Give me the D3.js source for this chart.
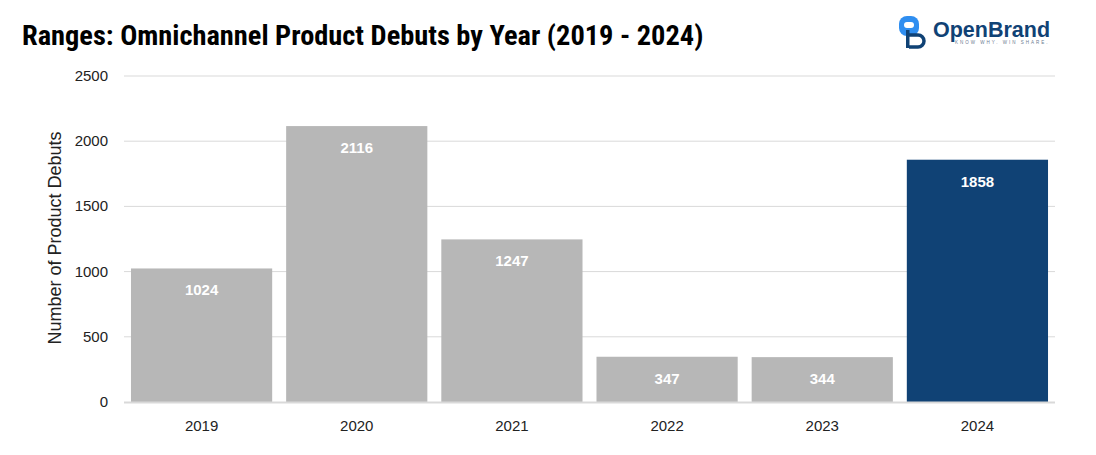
<!DOCTYPE html>
<html><head><meta charset="utf-8">
<script src="https://cdn.jsdelivr.net/npm/d3@7"></script>
<style>body{margin:0;background:#fff}svg{display:block}</style>
</head><body>
<svg id="c" width="1096" height="455"></svg>
<script>
const years = ["2019","2020","2021","2022","2023","2024"];
const debuts = [1024, 2116, 1247, 347, 344, 1858];
const yTicks = [0, 500, 1000, 1500, 2000, 2500];
const highlightYear = "2024";

const svg = d3.select("#c");
const m = {left:124, right:1055, top:76, bottom:402};
const x = d3.scaleBand().domain(years).range([m.left, m.right]).paddingInner(0.09).paddingOuter(0.045);
const y = d3.scaleLinear().domain([0, 2500]).range([m.bottom, m.top]);

svg.append("text").attr("x", 22).attr("y", 45)
  .attr("font-family", "'Liberation Sans Narrow','Roboto Condensed',sans-serif")
  .attr("font-weight", "bold").attr("font-size", 28.4).attr("fill", "#000")
  .text("Ranges: Omnichannel Product Debuts by Year (2019 - 2024)");

// gridlines
svg.append("g").selectAll("line").data(yTicks.filter(d => d > 0)).join("line")
  .attr("x1", m.left).attr("x2", m.right)
  .attr("y1", d => y(d)).attr("y2", d => y(d))
  .attr("stroke", "#d9d9d9").attr("stroke-width", 1);

// y labels
svg.append("g").selectAll("text").data(yTicks).join("text")
  .attr("x", 108).attr("y", d => y(d) + 5)
  .attr("text-anchor", "end").attr("font-family", "'Liberation Sans',Arial,sans-serif")
  .attr("font-size", 15).attr("fill", "#222").text(d => d);

svg.append("text").attr("transform", "translate(61,238) rotate(-90)")
  .attr("text-anchor", "middle").attr("font-family", "'Liberation Sans',Arial,sans-serif")
  .attr("font-size", 18).attr("fill", "#222").text("Number of Product Debuts");

// bars
svg.append("g").selectAll("rect").data(years).join("rect")
  .attr("x", d => x(d)).attr("width", x.bandwidth())
  .attr("y", (d, i) => y(debuts[i])).attr("height", (d, i) => y(0) - y(debuts[i]))
  .attr("fill", d => d === highlightYear ? "#104275" : "#b7b7b7");

// baseline
svg.append("line").attr("x1", m.left).attr("x2", m.right)
  .attr("y1", y(0) + 0.5).attr("y2", y(0) + 0.5).attr("stroke", "#d9d9d9").attr("stroke-width", 2);

// value labels
svg.append("g").selectAll("text").data(years).join("text")
  .attr("x", d => x(d) + x.bandwidth() / 2).attr("y", (d, i) => y(debuts[i]) + 27)
  .attr("text-anchor", "middle").attr("font-family", "'Liberation Sans',Arial,sans-serif")
  .attr("font-weight", "bold").attr("font-size", 15).attr("fill", "#fff").text((d, i) => debuts[i]);

// x labels
svg.append("g").selectAll("text").data(years).join("text")
  .attr("x", d => x(d) + x.bandwidth() / 2).attr("y", 431)
  .attr("text-anchor", "middle").attr("font-family", "'Liberation Sans',Arial,sans-serif")
  .attr("font-size", 15).attr("fill", "#222").text(d => d);

// logo
const lg = svg.append("g").attr("transform", "translate(898,16)");
lg.append("rect").attr("x", 1).attr("y", 0).attr("width", 20).attr("height", 20).attr("rx", 8).attr("fill", "#2f8ef0");
lg.append("rect").attr("x", 6).attr("y", 6).attr("width", 10).attr("height", 6).attr("rx", 3).attr("fill", "#fff");
lg.append("rect").attr("x", 8).attr("y", 14).attr("width", 3.5).attr("height", 18).attr("fill", "#104275");
lg.append("path").attr("d", "M11,19 h9 a6,6 0 0 1 0,12 h-9").attr("fill", "none").attr("stroke", "#104275").attr("stroke-width", 3.5);
lg.append("text").attr("x", 35).attr("y", 21).attr("font-family", "'Liberation Sans',Arial,sans-serif")
  .attr("font-weight", "bold").attr("font-size", 21.5).attr("fill", "#104275").text("OpenBrand");
lg.append("text").attr("x", 57).attr("y", 28).attr("font-family", "'Liberation Sans',Arial,sans-serif")
  .attr("font-size", 4.5).attr("letter-spacing", 2).attr("fill", "#6a7a90").text("KNOW WHY. WIN SHARE.");
</script>
</body></html>
